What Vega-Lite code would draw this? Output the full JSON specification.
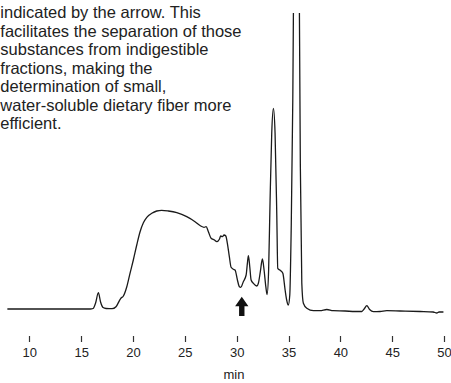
{
  "$schema": "https://vega.github.io/schema/vega-lite/v6.json",
  "autosize": "none",
  "width": 451,
  "height": 322.5,
  "padding": {"top": 13, "left": 0, "right": 0, "bottom": 47.5},
  "config": {"view": {"stroke": null}, "font": "Liberation Sans"},
  "datasets": {
    "trace": [
      {"t": 7.88, "signal": 1}, {"t": 12.96, "signal": 1}, {"t": 15.86, "signal": 1},
      {"t": 16.15, "signal": 1.5}, {"t": 16.39, "signal": 7}, {"t": 16.66, "signal": 17.3},
      {"t": 16.87, "signal": 8}, {"t": 17.11, "signal": 2.5}, {"t": 17.4, "signal": 1.5},
      {"t": 17.98, "signal": 1.3}, {"t": 18.36, "signal": 3.3}, {"t": 18.82, "signal": 11.7},
      {"t": 19.07, "signal": 14}, {"t": 19.4, "signal": 23.3}, {"t": 19.71, "signal": 36.7},
      {"t": 20.03, "signal": 50}, {"t": 20.36, "signal": 65}, {"t": 20.68, "signal": 78.3},
      {"t": 21.0, "signal": 87.3}, {"t": 21.33, "signal": 92.7}, {"t": 21.81, "signal": 96.7},
      {"t": 22.29, "signal": 99}, {"t": 22.77, "signal": 99.7}, {"t": 23.41, "signal": 99},
      {"t": 24.22, "signal": 97.3}, {"t": 25.18, "signal": 93.3}, {"t": 25.98, "signal": 88.3},
      {"t": 26.53, "signal": 84}, {"t": 26.85, "signal": 82.7}, {"t": 27.05, "signal": 83.3},
      {"t": 27.27, "signal": 78.3}, {"t": 27.53, "signal": 71.7}, {"t": 27.85, "signal": 70},
      {"t": 28.08, "signal": 68.3}, {"t": 28.33, "signal": 70.7}, {"t": 28.46, "signal": 74},
      {"t": 28.62, "signal": 73.3}, {"t": 28.78, "signal": 75}, {"t": 28.95, "signal": 74},
      {"t": 29.1, "signal": 66.7}, {"t": 29.29, "signal": 53.3}, {"t": 29.46, "signal": 42.7},
      {"t": 29.68, "signal": 40.7}, {"t": 29.84, "signal": 40}, {"t": 30.07, "signal": 30},
      {"t": 30.26, "signal": 23.3}, {"t": 30.39, "signal": 22.7}, {"t": 30.64, "signal": 28.3},
      {"t": 30.91, "signal": 35}, {"t": 31.03, "signal": 46.7}, {"t": 31.13, "signal": 54.3},
      {"t": 31.26, "signal": 43.3}, {"t": 31.39, "signal": 30}, {"t": 31.61, "signal": 26.7},
      {"t": 31.94, "signal": 24}, {"t": 32.09, "signal": 26.7}, {"t": 32.28, "signal": 38.3},
      {"t": 32.48, "signal": 51}, {"t": 32.64, "signal": 40}, {"t": 32.81, "signal": 23.3},
      {"t": 32.93, "signal": 15.5}, {"t": 33.08, "signal": 40}, {"t": 33.22, "signal": 110},
      {"t": 33.38, "signal": 177}, {"t": 33.54, "signal": 201.7}, {"t": 33.7, "signal": 177},
      {"t": 33.87, "signal": 93.3}, {"t": 33.96, "signal": 41.7}, {"t": 34.25, "signal": 39.3},
      {"t": 34.45, "signal": 36.7}, {"t": 34.67, "signal": 20}, {"t": 34.82, "signal": 10},
      {"t": 34.98, "signal": 5}, {"t": 35.12, "signal": 15}, {"t": 35.25, "signal": 77},
      {"t": 35.41, "signal": 210}, {"t": 35.47, "signal": 297}, {"t": 35.52, "signal": 410},
      {"t": 35.76, "signal": 610}, {"t": 36.0, "signal": 410}, {"t": 36.05, "signal": 297},
      {"t": 36.14, "signal": 143.3}, {"t": 36.28, "signal": 26.7}, {"t": 36.43, "signal": 6.7},
      {"t": 36.76, "signal": 1.7}, {"t": 37.4, "signal": -0.7}, {"t": 38.04, "signal": -0.7},
      {"t": 38.69, "signal": 0.5}, {"t": 39.3, "signal": -0.7}, {"t": 40.46, "signal": -1},
      {"t": 41.42, "signal": -1.5}, {"t": 42.07, "signal": -1.5}, {"t": 42.29, "signal": 1},
      {"t": 42.55, "signal": 4.3}, {"t": 42.82, "signal": 0.5}, {"t": 43.19, "signal": -1.7},
      {"t": 43.83, "signal": -1.5}, {"t": 44.48, "signal": -0.7}, {"t": 45.76, "signal": -1},
      {"t": 47.69, "signal": -1.5}, {"t": 48.95, "signal": -2}, {"t": 49.3, "signal": -3},
      {"t": 49.52, "signal": -2}, {"t": 49.94, "signal": -2}
    ],
    "arrow": [{"t": 30.49, "signal": 3.7}],
    "note": [{"t": 7.2, "signal": 291.7, "label": "indicated by the arrow. This\nfacilitates the separation of those\nsubstances from indigestible\nfractions, making the\ndetermination of small,\nwater-soluble dietary fiber more\nefficient."}]
  },
  "encoding": {
    "x": {
      "field": "t", "type": "quantitative",
      "scale": {"domain": [7.17, 50.67], "nice": false, "zero": false},
      "axis": {
        "values": [10, 15, 20, 25, 30, 35, 40, 45, 50],
        "domain": false, "grid": false, "ticks": true,
        "tickSize": 6, "tickColor": "#333", "tickWidth": 1.2, "tickOpacity": 1,
        "labelFontSize": 13, "labelColor": "#222", "labelPadding": 5,
        "title": "min", "titleFontSize": 13, "titleFontWeight": "normal",
        "titleColor": "#222", "titlePadding": 9, "titleX": 233.5
      }
    },
    "y": {
      "field": "signal", "type": "quantitative",
      "scale": {"domain": [-25.5, 297], "nice": false, "zero": false},
      "axis": null
    }
  },
  "layer": [
    {
      "data": {"name": "trace"},
      "mark": {"type": "line", "clip": true, "interpolate": "monotone", "color": "#1a1a1a", "strokeWidth": 1.3}
    },
    {
      "data": {"name": "arrow"},
      "mark": {"type": "point", "filled": true, "color": "#111", "opacity": 1, "size": 372,
               "shape": "M0,-1L0.69,0L0.28,0L0.28,1L-0.28,1L-0.28,0L-0.69,0Z"}
    },
    {
      "data": {"name": "note"},
      "mark": {"type": "text", "align": "left", "baseline": "alphabetic", "fontSize": 16.5,
               "lineHeight": 18.5, "lineBreak": "\n", "color": "#222"},
      "encoding": {"text": {"field": "label"}}
    }
  ]
}
